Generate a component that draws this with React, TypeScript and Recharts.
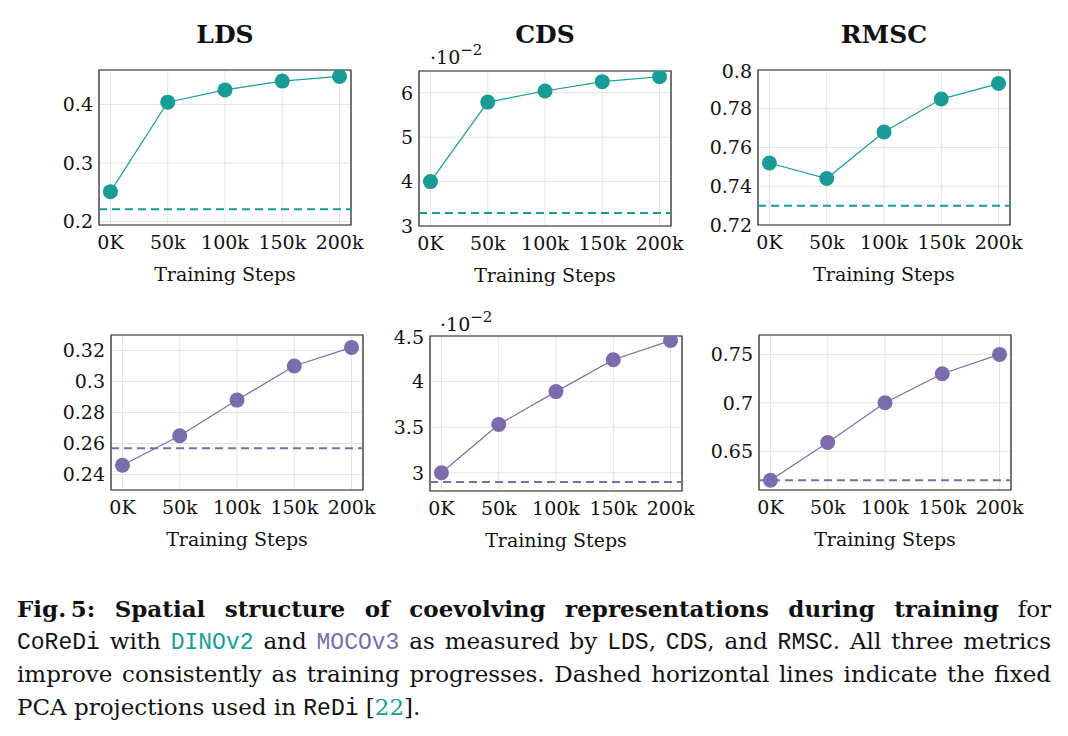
import React from "react";
import {
  LineChart,
  Line,
  XAxis,
  YAxis,
  CartesianGrid,
  ReferenceLine,
  ReferenceArea,
} from "recharts";

const TEAL = "#1a9c96";
const PURPLE = "#7b6dab";

// training steps (k) and their labels
const steps = [0, 50, 100, 150, 200];
const stepLabels = ["0K", "50k", "100k", "150k", "200k"];

// DINOv2 (top row)
const ldsDino = [0.251, 0.404, 0.425, 0.44, 0.448];
const cdsDino = [4.0, 5.79, 6.04, 6.25, 6.36]; // x 10^-2
const rmscDino = [0.752, 0.744, 0.768, 0.785, 0.793];
const dinoPca = { lds: 0.221, cds: 3.29, rmsc: 0.73 };

// MOCOv3 (bottom row)
const ldsMoco = [0.246, 0.265, 0.288, 0.31, 0.322];
const cdsMoco = [3.0, 3.53, 3.89, 4.24, 4.45]; // x 10^-2
const rmscMoco = [0.62, 0.659, 0.7, 0.73, 0.75];
const mocoPca = { lds: 0.257, cds: 2.9, rmsc: 0.62 };

const toRows = (vals: number[]) => steps.map((s, i) => ({ step: s, value: vals[i] }));

const FONT = "'DejaVu Serif', serif";
const BOX_W = 252;
const BOX_H = 155;
const Y_W = 80;
const X_H = 62;
const TOP = 10;

function Panel({
  left,
  top,
  values,
  pca,
  domain,
  ticks,
  color,
}: {
  left: number;
  top: number;
  values: number[];
  pca: number;
  domain: [number, number];
  ticks: number[];
  color: string;
}) {
  return (
    <div style={{ position: "absolute", left: left - Y_W, top: top - TOP }}>
      <LineChart
        width={Y_W + BOX_W + 24}
        height={TOP + BOX_H + X_H + 4}
        data={toRows(values)}
        margin={{ top: TOP, right: 24, bottom: 4, left: 0 }}
      >
        <CartesianGrid stroke="#e4e4e4" strokeWidth={1} />
        <XAxis
          dataKey="step"
          type="number"
          domain={[-10, 210]}
          ticks={steps}
          allowDataOverflow
          tickFormatter={(v) => stepLabels[steps.indexOf(v)]}
          tick={{ fill: "#111", fontSize: 19, fontFamily: FONT }}
          tickLine={false}
          tickSize={0}
          tickMargin={11}
          axisLine={false}
          height={X_H}
          label={{
            value: "Training Steps",
            position: "insideBottom",
            offset: 6,
            fill: "#111",
            fontSize: 19,
            fontFamily: FONT,
          }}
        />
        <YAxis
          type="number"
          domain={domain}
          ticks={ticks}
          allowDataOverflow
          tick={{ fill: "#111", fontSize: 19, fontFamily: FONT }}
          tickLine={false}
          tickSize={0}
          tickMargin={6}
          axisLine={false}
          width={Y_W}
        />
        <ReferenceLine y={pca} stroke={color} strokeWidth={2} strokeDasharray="8 5" />
        <Line
          dataKey="value"
          stroke={color}
          strokeWidth={1.2}
          dot={{ r: 7.5, fill: color, stroke: color, strokeWidth: 0 }}
          isAnimationActive={false}
        />
        <ReferenceArea
          x1={-10}
          x2={210}
          y1={domain[0]}
          y2={domain[1]}
          fill="none"
          fillOpacity={0}
          stroke="#222"
          strokeWidth={1.2}
          ifOverflow="visible"
        />
      </LineChart>
    </div>
  );
}

const mono = { fontFamily: "'Liberation Mono', monospace" };
const line = { height: 33, whiteSpace: "nowrap" as const, textAlign: "justify" as const, textAlignLast: "justify" as const };

export default function App() {
  return (
    <div style={{ position: "absolute", left: 0, top: 0, width: 1068, height: 736, background: "#fff" }}>
      <svg width={1068} height={90} style={{ position: "absolute", left: 0, top: 0 }}>
        <g fontFamily={FONT} fontWeight="bold" fontSize={25} fill="#111" textAnchor="middle">
          <text x={225} y={43}>LDS</text>
          <text x={545} y={43}>CDS</text>
          <text x={884} y={43}>RMSC</text>
        </g>
      </svg>
      <svg width={1068} height={40} style={{ position: "absolute", left: 0, top: 300 }}>
        <text x={440} y={31} fontFamily={FONT} fontSize={19} fill="#111">
          ·10<tspan dy={-9} fontSize={15}>−2</tspan>
        </text>
      </svg>
      <svg width={1068} height={40} style={{ position: "absolute", left: 0, top: 40 }}>
        <text x={430} y={24} fontFamily={FONT} fontSize={19} fill="#111">
          ·10<tspan dy={-9} fontSize={15}>−2</tspan>
        </text>
      </svg>

      <Panel left={99} top={70} values={ldsDino} pca={dinoPca.lds} domain={[0.194, 0.459]} ticks={[0.2, 0.3, 0.4]} color={TEAL} />
      <Panel left={419} top={71} values={cdsDino} pca={dinoPca.cds} domain={[3, 6.49]} ticks={[3, 4, 5, 6]} color={TEAL} />
      <Panel left={758} top={70} values={rmscDino} pca={dinoPca.rmsc} domain={[0.72, 0.8]} ticks={[0.72, 0.74, 0.76, 0.78, 0.8]} color={TEAL} />
      <Panel left={111} top={335} values={ldsMoco} pca={mocoPca.lds} domain={[0.23, 0.33]} ticks={[0.24, 0.26, 0.28, 0.3, 0.32]} color={PURPLE} />
      <Panel left={430} top={336} values={cdsMoco} pca={mocoPca.cds} domain={[2.8, 4.5]} ticks={[3, 3.5, 4, 4.5]} color={PURPLE} />
      <Panel left={759} top={335} values={rmscMoco} pca={mocoPca.rmsc} domain={[0.61, 0.77]} ticks={[0.65, 0.7, 0.75]} color={PURPLE} />

      <div
        style={{
          position: "absolute",
          left: 17,
          top: 592,
          width: 1034,
          fontFamily: FONT,
          fontSize: 23,
          lineHeight: "33px",
          color: "#111",
        }}
      >
        <div style={line}>
          <b>Fig.&#8201;5: Spatial structure of coevolving representations during training</b> for
        </div>
        <div style={line}>
          <span style={mono}>CoReDi</span> with <span style={{ ...mono, color: TEAL }}>DINOv2</span> and{" "}
          <span style={{ ...mono, color: PURPLE }}>MOCOv3</span> as measured by <span style={mono}>LDS</span>,{" "}
          <span style={mono}>CDS</span>, and <span style={mono}>RMSC</span>. All three metrics
        </div>
        <div style={line}>improve consistently as training progresses. Dashed horizontal lines indicate the fixed</div>
        <div style={{ height: 33, whiteSpace: "nowrap" }}>
          PCA projections used in <span style={mono}>ReDi</span> [<span style={{ color: TEAL }}>22</span>].
        </div>
      </div>
    </div>
  );
}
